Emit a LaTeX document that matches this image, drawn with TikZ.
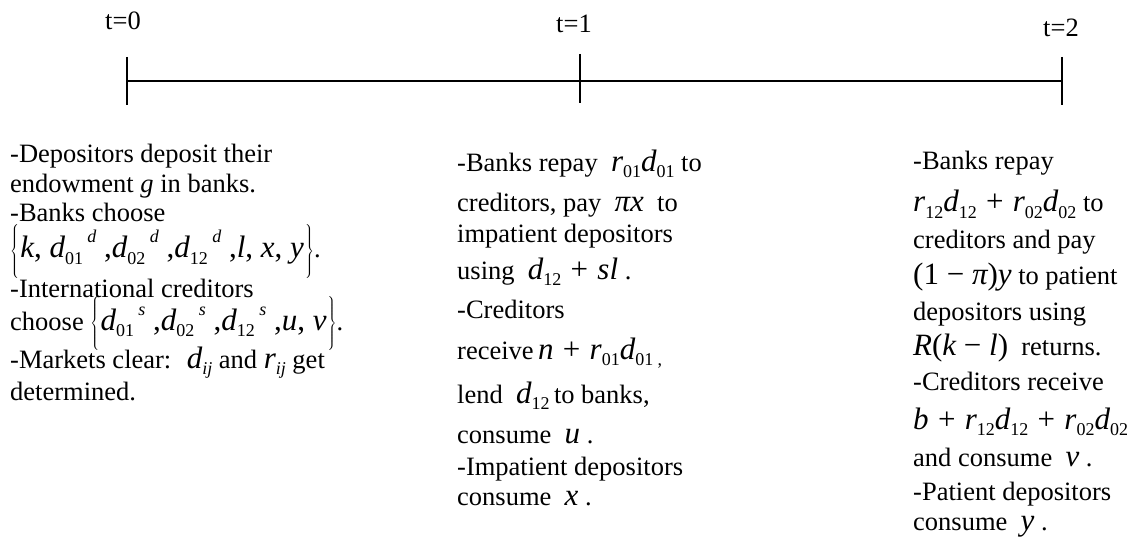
\documentclass[tikz,border=0pt]{standalone}
\usepackage{fontspec}
\setmainfont{Liberation Serif}
\newcommand\mI[1]{{\fontsize{31}{31}\selectfont\itshape #1}}
\newcommand\mU[1]{{\fontsize{31}{31}\selectfont #1}}
\newcommand\mPl{\mU{\hspace{0.3em}+\hspace{0.3em}}}
\newcommand\mSb[1]{\raisebox{-6pt}{\fontsize{18}{18}\selectfont #1}}
\newcommand\mSp[1]{\raisebox{15pt}{\fontsize{18}{18}\selectfont\itshape #1}}
\newcommand\mLB{$\left\{\vrule height 26pt depth 22pt width 0pt\right.$}
\newcommand\mRB{$\left.\vrule height 26pt depth 22pt width 0pt\right\}$}
\tikzset{
  txt/.style={anchor=base west, inner sep=0pt, font=\fontsize{26.5}{30}\selectfont},
  lbl/.style={anchor=base, inner sep=0pt, font=\fontsize{26.5}{30}\selectfont},
  axisline/.style={line width=2pt},
  tickline/.style={line width=1.3pt}
}
\begin{document}
\begin{tikzpicture}[x=1pt,y=-1pt]
\useasboundingbox (0,0) rectangle (1139,537);
% timeline
\coordinate (a0) at (127,81);
\coordinate (a1) at (580,81);
\coordinate (a2) at (1062,81);
\coordinate (t0u) at (127,57);  \coordinate (t0d) at (127,105);
\coordinate (t1u) at (580,54);  \coordinate (t1d) at (580,103);
\coordinate (t2u) at (1062,57); \coordinate (t2d) at (1062,105);
\draw[axisline] (a0) -- (a2);
\draw[tickline] (t0u) -- (t0d);
\draw[tickline] (t1u) -- (t1d);
\draw[tickline] (t2u) -- (t2d);
\node[lbl] (T0) at (123,30) {t=0};
\node[lbl] (T1) at (574,33) {t=1};
\node[lbl] (T2) at (1061,37) {t=2};
% left column
\node[txt] (L1) at (10,163) {-Depositors deposit their};
\node[txt] (L2) at (10,193) {endowment \textit{g} in banks.};
\node[txt] (L3) at (10,222) {-Banks choose};
\node[txt] (L4) at (10,258) {\mLB\mI{k}\mU{, }\mI{d}\mSb{01}\,\mSp{d}\mU{ ,}\mI{d}\mSb{02}\,\mSp{d}\mU{ ,}\mI{d}\mSb{12}\,\mSp{d}\mU{ ,}\mI{l}\mU{, }\mI{x}\mU{, }\mI{y}\mRB.};
\node[txt] (L5) at (10,297) {-International creditors};
\node[txt] (L6) at (10,330) {choose \mLB\mI{d}\mSb{01}\,\mSp{s}\mU{ ,}\mI{d}\mSb{02}\,\mSp{s}\mU{ ,}\mI{d}\mSb{12}\,\mSp{s}\mU{ ,}\mI{u}\mU{, }\mI{v}\mRB.};
\node[txt] (L7) at (10,368) {-Markets clear:~ \mI{d}\mSb{\itshape ij} and \mI{r}\mSb{\itshape ij} get};
\node[txt] (L8) at (10,400) {determined.};
% middle column
\node[txt] (M1) at (457,172) {-Banks repay~ \mI{r}\mSb{01}\mI{d}\mSb{01} to};
\node[txt] (M2) at (457,212) {creditors, pay~ \mI{πx}~ to};
\node[txt] (M3) at (457,242) {impatient depositors};
\node[txt] (M4) at (457,279) {using~ \mI{d}\mSb{12}\mPl\mI{sl}~.};
\node[txt] (M5) at (457,318) {-Creditors};
\node[txt] (M6) at (457,359) {receive\,\mI{n}\mPl\mI{r}\mSb{01}\mI{d}\mSb{01}\,\mSb{,}};
\node[txt] (M7) at (457,403) {lend~ \mI{d}\mSb{12}\,to banks,};
\node[txt] (M8) at (457,443) {consume~ \mI{u}~.};
\node[txt] (M9) at (457,475) {-Impatient depositors};
\node[txt] (M10) at (457,505) {consume~ \mI{x}~.};
% right column
\node[txt] (R1) at (913,170) {-Banks repay};
\node[txt] (R2) at (913,212) {\mI{r}\mSb{12}\mI{d}\mSb{12}\mPl\mI{r}\mSb{02}\mI{d}\mSb{02} to};
\node[txt] (R3) at (913,248) {creditors and pay};
\node[txt] (R4) at (913,284) {\mU{(1 − }\mI{π}\mU{)}\mI{y} to patient};
\node[txt] (R5) at (913,320) {depositors using};
\node[txt] (R6) at (913,355) {\mI{R}\mU{(}\mI{k}\mU{ − }\mI{l}\mU{)}~ returns.};
\node[txt] (R7) at (913,390) {-Creditors receive};
\node[txt] (R8) at (913,429) {\mI{b}\mPl\mI{r}\mSb{12}\mI{d}\mSb{12}\mPl\mI{r}\mSb{02}\mI{d}\mSb{02}};
\node[txt] (R9) at (913,466) {and consume~ \mI{v}~.};
\node[txt] (R10) at (913,500) {-Patient depositors};
\node[txt] (R11) at (913,530) {consume~ \mI{y}~.};
\end{tikzpicture}
\end{document}
